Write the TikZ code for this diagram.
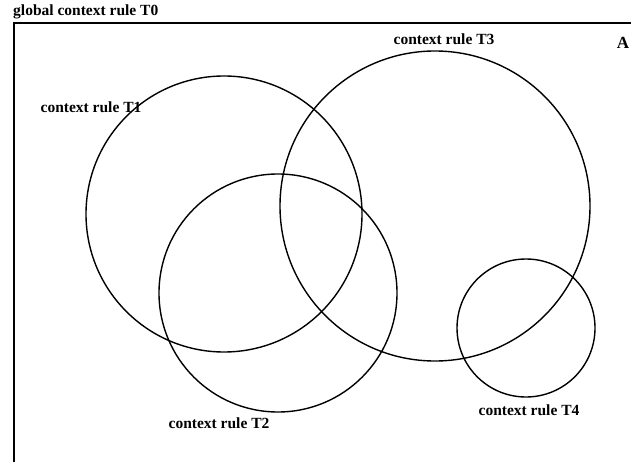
\documentclass[tikz,border=0pt]{standalone}
\usepackage{fontspec}
\setmainfont{Liberation Serif}
\begin{document}
\begin{tikzpicture}[x=1pt,y=-1pt,
  lbl/.style={inner sep=0pt,font=\fontsize{15.5}{18}\selectfont\bfseries},
  ring/.style={draw=black,line width=1.4pt,circle,inner sep=0pt}]
\useasboundingbox (0,0) rectangle (631,462);
% frame (only top and left edges visible)
\coordinate (fl) at (14,462);
\coordinate (ftl) at (14,23);
\coordinate (ftr) at (631,23);
\draw[line width=1.5pt] (fl) -- (ftl) -- (ftr);
\node[lbl,anchor=west] (t0) at (13,12) {global context rule T0};
\node[lbl,font=\fontsize{17}{20}\selectfont\bfseries] (a) at (623,43) {A};
% circles
\node[ring,minimum size=276pt] (c1) at (224,214) {};
\node[ring,minimum size=238pt] (c2) at (278,293) {};
\node[ring,minimum size=310pt] (c3) at (435,206) {};
\node[ring,minimum size=138pt] (c4) at (526,328) {};
% labels
\node[lbl] (l1) at (91,107) {context rule T1};
\node[lbl] (l2) at (219,423) {context rule T2};
\node[lbl] (l3) at (444,39) {context rule T3};
\node[lbl] (l4) at (529,410) {context rule T4};
\end{tikzpicture}
\end{document}
